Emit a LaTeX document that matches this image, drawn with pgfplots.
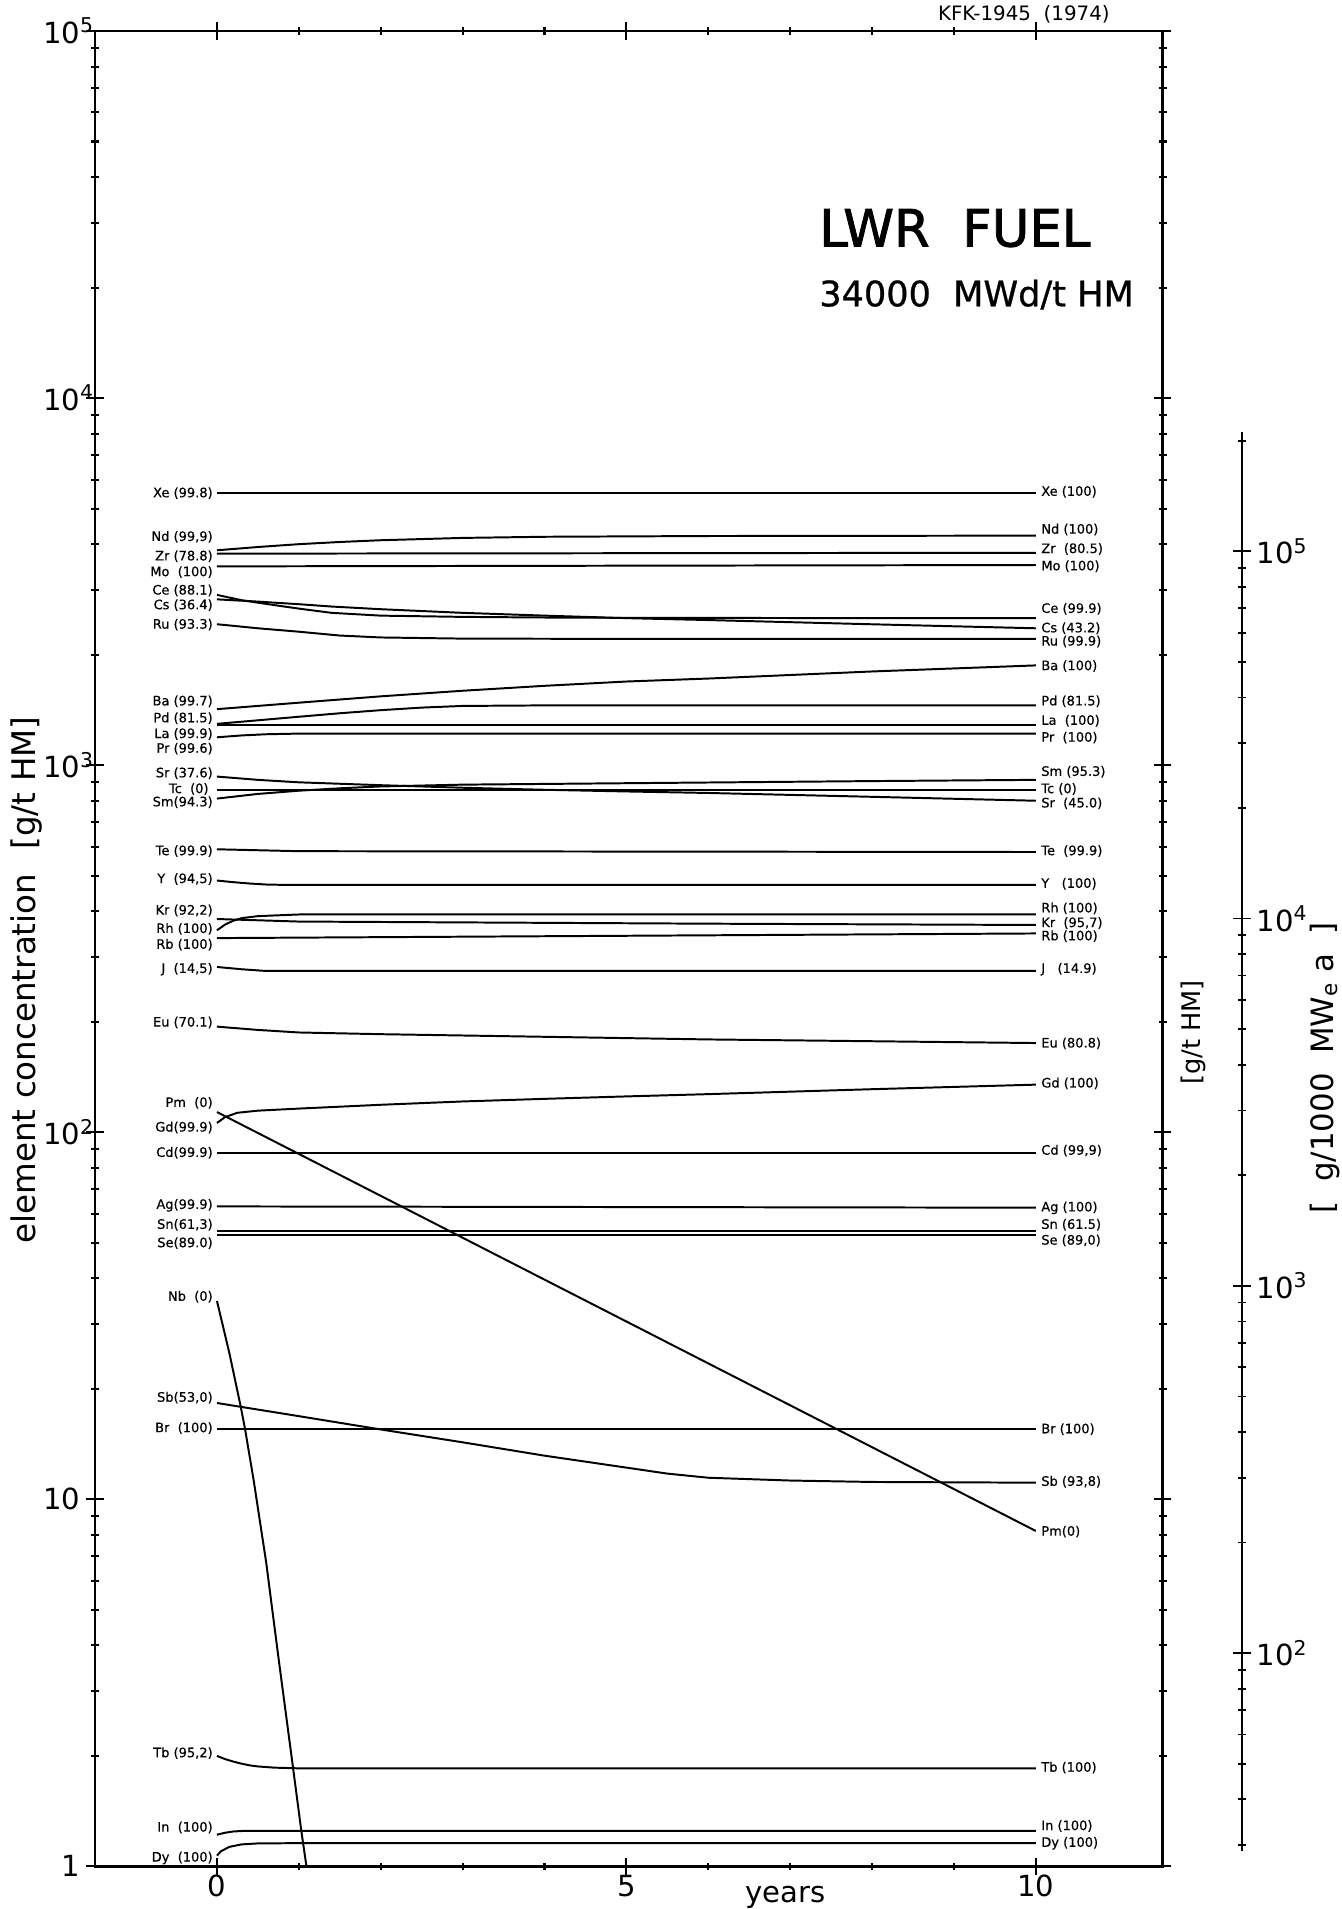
\documentclass[border=0pt]{standalone}
\usepackage{fontspec}
\setmainfont{DejaVu Sans}
\newfontfamily\heavyfont[FakeBold=1.6]{DejaVu Sans}
\newfontfamily\mediumfont[FakeBold=0.8]{DejaVu Sans}
\newfontfamily\lblfamily[FakeBold=0.5]{DejaVu Sans}
\usepackage{pgfplots}
\pgfplotsset{compat=1.18}

\newcommand{\lblfont}{\lblfamily\fontsize{7.6}{8}\selectfont}
\newcommand{\tickfont}{\fontsize{17}{17}\selectfont}
\newcommand{\labfont}{\fontsize{19}{19}\selectfont}
\newcommand{\dec}[1]{10\rlap{\textsuperscript{#1}}}
% element labels at the start (left) and end (right) of each curve
\newcommand{\lft}[2]{\node[anchor=east,font=\lblfont,inner sep=0pt] at (axis description cs:0.1106,#1) {#2};}
\newcommand{\rgt}[2]{\node[anchor=west,font=\lblfont,inner sep=0pt] at (axis description cs:0.886,#1) {#2};}

\begin{document}
\begin{tikzpicture}
\path[use as bounding box] (-19.5mm,-8.75mm) rectangle (256mm,383.25mm);

\begin{axis}[
  at={(0,0)}, anchor=south west,
  scale only axis, width=219.25mm, height=376.875mm,
  xmin=-1.49, xmax=11.55, ymin=1, ymax=1e5, ymode=log,
  xtick={0,5,10}, xticklabels={0,5,10},
  minor xtick={1,2,3,4,6,7,8,9},
  ytick={1,10,100,1000,10000,100000},
  yticklabels={1,10,\dec{2},\dec{3},\dec{4},\dec{5}},
  minor ytick={2,3,4,5,6,7,8,9,20,30,40,50,60,70,80,90,200,300,400,500,600,700,800,900,
    2000,3000,4000,5000,6000,7000,8000,9000,20000,30000,40000,50000,60000,70000,80000,90000},
  tick align=center, major tick length=3.6mm, minor tick length=1.6mm,
  axis line style={line width=1.6pt},
  every tick/.style={black, line width=1.2pt},
  tick label style={font=\tickfont},
  xticklabel style={yshift=1.3mm},
  curve/.style={black, line width=1.15pt, mark=none},
]
% fission product element concentrations vs. cooling time
\addplot[curve] coordinates {(0,5510) (10,5510)};                                   % Xe
\addplot[curve] coordinates {(0,3850) (0.5,3930) (1,4000) (1.5,4055) (2,4100) (3,4160) (4,4190) (6,4210) (10,4220)}; % Nd
\addplot[curve] coordinates {(0,3770) (10,3790)};                                   % Zr
\addplot[curve] coordinates {(0,3480) (10,3510)};                                   % Mo
\addplot[curve] coordinates {(0,2910) (0.3,2815) (0.6,2750) (1,2670) (1.4,2600) (2,2555) (3,2535) (4,2525) (5,2520) (7,2517) (10,2515)}; % Ce
\addplot[curve] coordinates {(0,2830) (0.5,2790) (1,2745) (1.4,2705) (2,2660) (3,2600) (4,2555) (5,2515) (6,2485) (8,2420) (10,2360)}; % Cs
\addplot[curve] coordinates {(0,2421) (0.5,2360) (1,2310) (1.5,2255) (2,2228) (3,2212) (5,2208) (10,2208)}; % Ru
\addplot[curve] coordinates {(0,1421) (1,1480) (2,1540) (3,1595) (4,1645) (5,1690) (6,1722) (8,1800) (10,1870)}; % Ba
\addplot[curve] coordinates {(0,1296) (0.5,1325) (1,1355) (1.5,1385) (2,1412) (2.5,1435) (3,1450) (4,1455) (10,1455)}; % Pd
\addplot[curve] coordinates {(0,1288) (10,1288)};                                   % La
\addplot[curve] coordinates {(0,1191) (0.3,1205) (0.6,1214) (1,1219) (10,1219)};    % Pr
\addplot[curve] coordinates {(0,931) (0.5,912) (1,898) (2,882) (3,868) (4,857) (5,848) (6,840) (8,820) (10,800)}; % Sr
\addplot[curve] coordinates {(0,857) (10,857)};                                     % Tc
\addplot[curve] coordinates {(0,811) (0.5,835) (1,852) (1.5,865) (2,875) (3,885) (5,893) (6,897) (8,905) (10,912)}; % Sm
\addplot[curve] coordinates {(0,590) (1,583) (10,580)};                             % Te
\addplot[curve] coordinates {(0,485) (0.2,480) (0.4,476) (0.6,473) (0.8,472) (10,472)}; % Y
\addplot[curve] coordinates {(0,381) (1,375) (3,373) (6,370) (10,367)};             % Kr
\addplot[curve] coordinates {(0,355) (0.1,368) (0.2,377) (0.3,383) (0.5,388) (1,392) (10,392)}; % Rh
\addplot[curve] coordinates {(0,338) (5,343) (10,348)};                             % Rb
\addplot[curve] coordinates {(0,282) (0.3,278) (0.6,275) (10,275)};                 % J
\addplot[curve] coordinates {(0,194) (0.5,190) (1,187) (2,185) (4,182) (6,179) (8,177) (10,175)}; % Eu
\addplot[curve] coordinates {(0,113.5) (10,8.2)};                                   % Pm
\addplot[curve] coordinates {(0,106) (0.1,110) (0.25,113) (0.5,114.5) (1,116) (2,118.8) (3,121.3) (4,123.3) (5,125.2) (6,127) (8,131) (10,134.8)}; % Gd
\addplot[curve] coordinates {(0,87.8) (10,87.8)};                                   % Cd
\addplot[curve] coordinates {(0,62.8) (10,62.3)};                                   % Ag
\addplot[curve] coordinates {(0,53.9) (10,53.9)};                                   % Sn
\addplot[curve] coordinates {(0,52.6) (10,52.6)};                                   % Se
\addplot[curve] coordinates {(0,34.7) (0.15,25.1) (0.29,17.9) (0.344,15.5) (0.45,11.2) (0.6,6.76) (0.75,3.72) (0.93,1.85) (1.03,1.25) (1.093,1)}; % Nb
\addplot[curve] coordinates {(0,18.3) (1,16.85) (2,15.5) (3,14.3) (4,13.15) (5,12.2) (5.5,11.75) (6,11.45) (7,11.25) (8,11.15) (10,11.1)}; % Sb
\addplot[curve] coordinates {(0,15.5) (10,15.5)};                                   % Br
\addplot[curve] coordinates {(0,2.0) (0.1,1.96) (0.2,1.93) (0.3,1.905) (0.4,1.885) (0.5,1.872) (0.7,1.858) (1,1.85) (10,1.85)}; % Tb
\addplot[curve] coordinates {(0,1.22) (0.1,1.235) (0.2,1.245) (0.35,1.25) (10,1.25)}; % In
\addplot[curve] coordinates {(0,1.07) (0.05,1.10) (0.15,1.13) (0.3,1.148) (0.5,1.155) (1,1.157) (10,1.157)}; % Dy

% labels at discharge (with stable fraction in %)
\lft{0.7482}{Xe (99.8)}
\lft{0.7244}{Nd (99,9)}
\lft{0.7138}{Zr (78.8)}
\lft{0.7052}{Mo\ \ (100)}
\lft{0.6952}{Ce (88.1)}
\lft{0.6872}{Cs (36.4)}
\lft{0.6766}{Ru (93.3)}
\lft{0.6348}{Ba (99.7)}
\lft{0.6256}{Pd (81.5)}
\lft{0.6170}{La (99.9)}
\lft{0.6090}{Pr (99.6)}
\lft{0.5956}{Sr (37.6)}
\lft{0.5870}{Tc\ \ (0)\ \ }
\lft{0.5798}{Sm(94.3)}
\lft{0.5532}{Te (99.9)}
\lft{0.5380}{Y\ \ (94,5)}
\lft{0.5208}{Kr (92,2)}
\lft{0.5108}{Rh (100)}
\lft{0.5022}{Rb (100)}
\lft{0.4888}{J\ \ (14,5)}
\lft{0.4598}{Eu (70.1)}
\lft{0.4160}{Pm\ \ (0)\ }
\lft{0.4026}{Gd(99.9)}
\lft{0.3888}{Cd(99.9)}
\lft{0.3602}{Ag(99.9)}
\lft{0.3496}{Sn(61,3)}
\lft{0.3396}{Se(89.0)}
\lft{0.3104}{Nb\ \ (0)\ }
\lft{0.2554}{Sb(53,0)}
\lft{0.2388}{Br\ \ (100)}
\lft{0.0617}{Tb (95,2)}
\lft{0.0212}{In\ \ (100)}
\lft{0.0046}{Dy\ \ (100)}

% labels after ten years of cooling
\rgt{0.7490}{Xe (100)}
\rgt{0.7284}{Nd (100)}
\rgt{0.7178}{Zr\ \ (80.5)}
\rgt{0.7084}{Mo (100)}
\rgt{0.6852}{Ce (99.9)}
\rgt{0.6746}{Cs (43.2)}
\rgt{0.6674}{Ru (99.9)}
\rgt{0.6540}{Ba (100)}
\rgt{0.6348}{Pd (81.5)}
\rgt{0.6242}{La\ \ (100)}
\rgt{0.6150}{Pr\ \ (100)}
\rgt{0.5964}{Sm (95.3)}
\rgt{0.5870}{Tc (0)}
\rgt{0.5792}{Sr\ \ (45.0)}
\rgt{0.5532}{Te\ \ (99.9)}
\rgt{0.5354}{Y\ \ \ (100)}
\rgt{0.5220}{Rh (100)}
\rgt{0.5140}{Kr\ \ (95,7)}
\rgt{0.5068}{Rb (100)}
\rgt{0.4888}{J\ \ \ (14.9)}
\rgt{0.4484}{Eu (80.8)}
\rgt{0.4266}{Gd (100)}
\rgt{0.3900}{Cd (99,9)}
\rgt{0.3588}{Ag (100)}
\rgt{0.3496}{Sn (61.5)}
\rgt{0.3410}{Se (89,0)}
\rgt{0.2382}{Br (100)}
\rgt{0.2096}{Sb (93,8)}
\rgt{0.1824}{Pm(0)}
\rgt{0.0538}{Tb (100)}
\rgt{0.0220}{In (100)}
\rgt{0.0126}{Dy (100)}
\end{axis}

% second scale: per 1000 MWe a
\begin{axis}[
  at={(235.5mm,3.25mm)}, anchor=south east,
  scale only axis, width=5mm, height=291.25mm,
  xmin=0, xmax=1, ymode=log, ymin=29, ymax=2.11e5,
  hide x axis, axis y line*=right, y axis line style={-, line width=1.2pt},
  ytick={100,1000,10000,100000},
  yticklabels={10\textsuperscript{2},10\textsuperscript{3},10\textsuperscript{4},10\textsuperscript{5}},
  minor ytick={30,40,50,60,70,80,90,200,300,400,500,600,700,800,900,
    2000,3000,4000,5000,6000,7000,8000,9000,20000,30000,40000,50000,60000,70000,80000,90000,200000},
  tick align=center, major tick length=3.6mm, minor tick length=1.6mm,
  every tick/.style={black, line width=1.0pt},
  tick label style={font=\tickfont},
]
\end{axis}

% titles and axis captions
\node[anchor=west,font=\heavyfont\fontsize{30}{30}\selectfont] at (147.5mm,336.4mm) {LWR\ \ FUEL};
\node[anchor=west,font=\mediumfont\fontsize{20.5}{21}\selectfont] at (147.5mm,322.75mm) {34000\ \ MWd/t HM};
\node[font=\fontsize{11.6}{12}\selectfont] at (190.75mm,380.25mm) {KFK-1945\ \ (1974)};
\node[rotate=90,font=\labfont] at (-14mm,182mm) {element concentration\hspace{5mm}[g/t HM]};
\node[anchor=base,font=\fontsize{17}{17}\selectfont] at (141.75mm,-7.4mm) {years};
\node[rotate=90,font=\fontsize{15}{15}\selectfont] at (225.5mm,171.25mm) {[g/t HM]};
\node[rotate=90,inner sep=0pt,font=\fontsize{18}{18}\selectfont] at (252.5mm,164mm) {[\ \ g/1000\ \ MW\textsubscript{e}\ a\ \ ]};
\end{tikzpicture}
\end{document}
